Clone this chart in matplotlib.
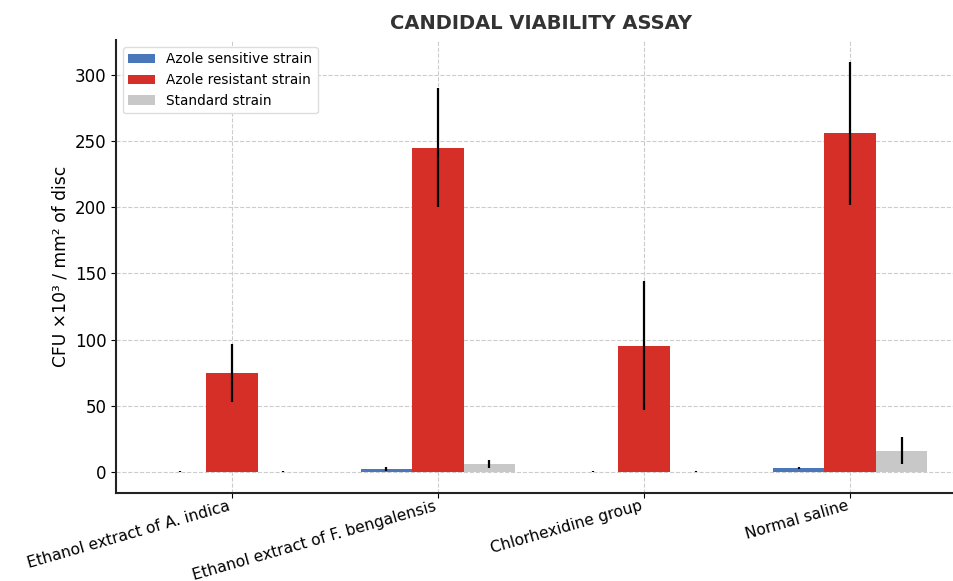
import numpy as np
import matplotlib.pyplot as plt

# Groups and mean CFU values (x10^3 / mm^2 of disc)
groups = ['Ethanol extract of A. indica', 'Ethanol extract of F. bengalensis',
          'Chlorhexidine group', 'Normal saline']
sensitive = [0, 2, 0, 3]
sensitive_err = [0.5, 1.5, 0.5, 1]
resistant = [74.5, 245, 95.5, 256]
resistant_err = [22, 45, 49, 54]
standard = [0, 6, 0, 16]
standard_err = [0.5, 3, 0.5, 10]

x = np.arange(len(groups))
width = 0.25

fig = plt.figure(figsize=(9.54, 5.81), dpi=100)
ax = fig.add_axes([0.1216, 0.1515, 0.891, 0.7795])

err_kw = dict(ecolor='black', elinewidth=1.6, capsize=0)
ax.bar(x - width, sensitive, width, yerr=sensitive_err, color='#4a77b9',
       label='Azole sensitive strain', error_kw=err_kw, zorder=2)
ax.bar(x, resistant, width, yerr=resistant_err, color='#d62f27',
       label='Azole resistant strain', error_kw=err_kw, zorder=2)
ax.bar(x + width, standard, width, yerr=standard_err, color='#c8c8c8',
       label='Standard strain', error_kw=err_kw, zorder=2)

ax.set_xlim(-0.5625, 3.5625)
ax.set_ylim(-16, 326.5)
ax.set_xticks(x)
ax.set_xticklabels(groups, rotation=16, ha='right', fontsize=11.2)
ax.tick_params(axis='x', pad=0.5)
ax.tick_params(axis='y', labelsize=12)
ax.set_ylabel('CFU ×10³ / mm² of disc', fontsize=12.3)
ax.set_title('CANDIDAL VIABILITY ASSAY', fontsize=14, fontweight='bold',
             color='#333333', pad=8)

ax.grid(True, linestyle='--', color='#cccccc', linewidth=0.8, zorder=0)
ax.set_axisbelow(True)
for s in ['top', 'right']:
    ax.spines[s].set_visible(False)
for s in ['left', 'bottom']:
    ax.spines[s].set_linewidth(1.5)
    ax.spines[s].set_color('#222222')

ax.legend(loc='upper left', fontsize=9.8, frameon=True, framealpha=1,
          edgecolor='#dddddd')

fig.savefig('out.png', dpi=100)
